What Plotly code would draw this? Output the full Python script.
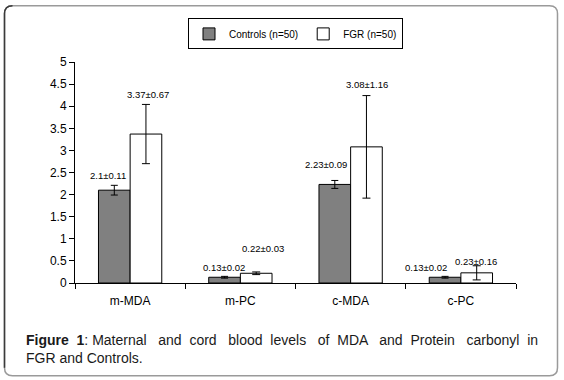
import plotly.graph_objects as go

# ---------------- data ----------------
categories = ["m-MDA", "m-PC", "c-MDA", "c-PC"]
controls_mean = [2.10, 0.13, 2.23, 0.13]
controls_sd = [0.11, 0.02, 0.09, 0.02]
fgr_mean = [3.37, 0.22, 3.08, 0.23]
fgr_sd = [0.67, 0.03, 1.16, 0.16]
series_names = ["Controls (n=50)", "FGR (n=50)"]
y_tick_vals = [0, 0.5, 1, 1.5, 2, 2.5, 3, 3.5, 4, 4.5, 5]
y_tick_text = ["0", "0.5", "1", "1.5", "2", "2.5", "3", "3.5", "4", "4.5", "5"]

# ---------------- layout helpers ----------------
FIG_W, FIG_H = 564, 380
L, R_EDGE, T, B_EDGE = 75, 516, 62, 283.5
PW, PH = R_EDGE - L, B_EDGE - T
FONT = "Arial, Liberation Sans, sans-serif"


def px(x):
    return (x - L) / PW


def py(y):
    return (B_EDGE - y) / PH


# label placement (data y, pixel x-shift) for the value annotations
ctrl_label_y = [2.43, 0.36, 2.67, 0.34]
ctrl_label_dx = [-22, -16, -25, -35]
fgr_label_y = [4.27, 0.79, 4.50, 0.49]
fgr_label_dx = [18, 23, 16, 15]

fig = go.Figure()
fig.add_trace(go.Bar(
    x=categories, y=controls_mean, name=series_names[0],
    marker=dict(color="#808080", line=dict(color="black", width=1)),
    error_y=dict(type="data", array=controls_sd, color="black", thickness=1, width=3.5),
))
fig.add_trace(go.Bar(
    x=categories, y=fgr_mean, name=series_names[1],
    marker=dict(color="white", line=dict(color="black", width=1)),
    error_y=dict(type="data", array=fgr_sd, color="black", thickness=1, width=4),
))

annotations = []
for i, c in enumerate(categories):
    annotations.append(dict(
        x=c, y=ctrl_label_y[i], xref="x", yref="y", xshift=ctrl_label_dx[i],
        text=f"{controls_mean[i]:g}±{controls_sd[i]:g}", showarrow=False,
        font=dict(family=FONT, size=9.5, color="black"), xanchor="center", yanchor="middle"))
    annotations.append(dict(
        x=c, y=fgr_label_y[i], xref="x", yref="y", xshift=fgr_label_dx[i],
        text=f"{fgr_mean[i]:g}±{fgr_sd[i]:g}", showarrow=False,
        font=dict(family=FONT, size=9.5, color="black"), xanchor="center", yanchor="middle"))

# caption (justified first line approximated with non-breaking spaces)
nb = "\u00a0"
words = ["<b>Figure</b>", "<b>1</b>: Maternal", "and", "cord", "blood", "levels", "of",
         "MDA", "and", "Protein", "carbonyl", "in"]
line1 = ""
for k, w in enumerate(words):
    if k == 0:
        line1 += w
    else:
        line1 += " " + (nb * (2 if k % 2 == 0 else 1)) + w
caption = line1 + "<br>FGR and Controls."
annotations.append(dict(
    x=px(24), y=py(350), xref="paper", yref="paper", text=caption, showarrow=False,
    xanchor="left", yanchor="middle", align="left",
    font=dict(family=FONT, size=14, color="#1a1a1a")))

# rounded frame
x0, y0, x1, y1, r = 4.5, 5.5, 557.5, 376.5, 8


def P(x, y):
    return f"{px(x):.5f},{py(y):.5f}"


frame_path = (f"M {P(x0 + r, y0)} L {P(x1 - r, y0)} Q {P(x1, y0)} {P(x1, y0 + r)} "
              f"L {P(x1, y1 - r)} Q {P(x1, y1)} {P(x1 - r, y1)} "
              f"L {P(x0 + r, y1)} Q {P(x0, y1)} {P(x0, y1 - r)} "
              f"L {P(x0, y0 + r)} Q {P(x0, y0)} {P(x0 + r, y0)} Z")
left_path = f"M {P(x0, y1 - r)} L {P(x0, y0 + r)} Q {P(x0, y0)} {P(x0 + r, y0)}"
shapes = [
    dict(type="path", xref="paper", yref="paper", path=frame_path,
         line=dict(color="#9a9a9a", width=1.5), layer="below"),
    dict(type="path", xref="paper", yref="paper", path=left_path,
         line=dict(color="#3a3a3a", width=1.5), layer="below"),
]

fig.update_layout(
    width=FIG_W, height=FIG_H,
    margin=dict(l=L, r=FIG_W - R_EDGE, t=T, b=FIG_H - B_EDGE, pad=0, autoexpand=False),
    paper_bgcolor="white", plot_bgcolor="white",
    barmode="group", bargap=0.426, bargroupgap=0,
    font=dict(family=FONT, size=12, color="black"),
    showlegend=True,
    legend=dict(orientation="h", x=0.5, xanchor="center", y=py(18.3), yanchor="top",
                bordercolor="black", borderwidth=1, bgcolor="white",
                font=dict(family=FONT, size=10, color="black"),
                itemwidth=30, traceorder="normal"),
    xaxis=dict(showline=True, linecolor="black", linewidth=1, ticks="outside",
               tickson="boundaries", ticklen=5, tickcolor="black", tickwidth=1,
               showgrid=False, zeroline=False, ticklabelstandoff=7,
               tickfont=dict(family=FONT, size=12, color="black")),
    yaxis=dict(range=[0, 5], tickvals=y_tick_vals, ticktext=y_tick_text,
               showline=True, linecolor="black", linewidth=1, ticks="outside",
               ticklen=5, tickcolor="black", tickwidth=1, showgrid=False,
               zeroline=False, tickfont=dict(family=FONT, size=12, color="black")),
    annotations=annotations,
    shapes=shapes,
)

fig.write_html(
    "out.html",
    config={"displayModeBar": False},
    post_script="document.body.style.margin='0';document.body.style.padding='0';",
)
